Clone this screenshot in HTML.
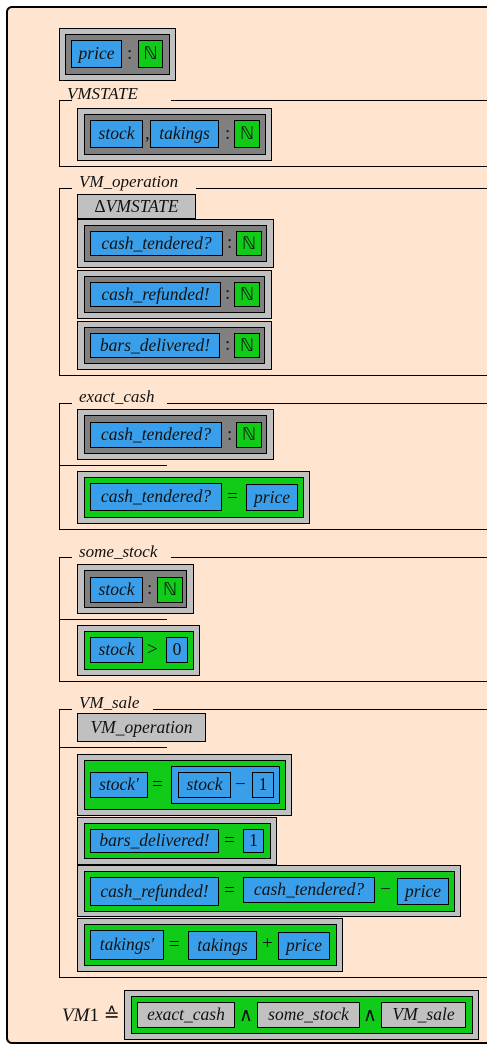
<!DOCTYPE html>
<html><head><style>
body{margin:0;width:487px;height:1052px;background:#fff;overflow:hidden;position:relative;font-family:"Liberation Serif",serif;color:#111}
.f{position:absolute;left:6px;top:6px;width:500px;height:1038px;box-sizing:border-box;border:2px solid #000;border-radius:6px;background:#ffe5cf}
.b{position:absolute;box-sizing:border-box;border:1px solid #000;display:flex;align-items:center;justify-content:center;font-style:italic;font-size:17.5px;white-space:nowrap;line-height:1}
.g{background:#c0c0c0}.d{background:#808080}.u{background:#3a9fea}.n{background:#10cc18}
.r{font-style:normal}
.t{position:absolute;font-size:19px;line-height:1;white-space:nowrap}
.i{font-style:italic}
.h{position:absolute;height:1px;background:#000}
.v{position:absolute;width:1px;background:#000}
</style></head><body>
<div class="f"></div>

<!-- price -->
<div class="b g" style="left:59px;top:28px;width:117px;height:53px"></div>
<div class="b d" style="left:65px;top:34px;width:105px;height:41px"></div>
<div class="b u" style="left:71px;top:40px;width:51px;height:28px">price</div>
<div class="t" style="left:127px;top:44px">:</div>
<div class="b n r" style="left:138px;top:40px;width:25px;height:28px">ℕ</div>

<!-- VMSTATE -->
<div class="t i" style="left:67px;top:85px;font-size:17px">VMSTATE</div>
<div class="h" style="left:59px;top:100px;width:13px"></div>
<div class="h" style="left:171px;top:100px;width:316px"></div>
<div class="v" style="left:59px;top:100px;height:66px"></div>
<div class="h" style="left:59px;top:166px;width:428px"></div>
<div class="b g" style="left:77px;top:108px;width:195px;height:53px"></div>
<div class="b d" style="left:84px;top:114px;width:182px;height:41px"></div>
<div class="b u" style="left:90px;top:120px;width:53px;height:28px">stock</div>
<div class="t" style="left:145px;top:124px">,</div>
<div class="b u" style="left:150px;top:120px;width:69px;height:28px">takings</div>
<div class="t" style="left:225px;top:124px">:</div>
<div class="b n r" style="left:234px;top:120px;width:26px;height:28px">ℕ</div>

<!-- VM_operation -->
<div class="t i" style="left:79px;top:173px;font-size:17px">VM_operation</div>
<div class="h" style="left:59px;top:188px;width:13px"></div>
<div class="h" style="left:196px;top:188px;width:291px"></div>
<div class="v" style="left:59px;top:188px;height:187px"></div>
<div class="h" style="left:59px;top:375px;width:428px"></div>
<div class="b g" style="left:77px;top:194px;width:119px;height:25px"><span class="r">Δ</span>VMSTATE</div>
<div class="b g" style="left:77px;top:219px;width:197px;height:49px"></div>
<div class="b d" style="left:84px;top:225px;width:183px;height:37px"></div>
<div class="b u" style="left:90px;top:231px;width:133px;height:25px">cash_tendered?</div>
<div class="t" style="left:227px;top:233px">:</div>
<div class="b n r" style="left:236px;top:231px;width:26px;height:25px">ℕ</div>
<div class="b g" style="left:77px;top:270px;width:195px;height:49px"></div>
<div class="b d" style="left:84px;top:276px;width:181px;height:37px"></div>
<div class="b u" style="left:90px;top:282px;width:131px;height:25px">cash_refunded!</div>
<div class="t" style="left:225px;top:284px">:</div>
<div class="b n r" style="left:234px;top:282px;width:26px;height:25px">ℕ</div>
<div class="b g" style="left:77px;top:321px;width:195px;height:49px"></div>
<div class="b d" style="left:84px;top:327px;width:181px;height:37px"></div>
<div class="b u" style="left:90px;top:333px;width:130px;height:25px">bars_delivered!</div>
<div class="t" style="left:225px;top:335px">:</div>
<div class="b n r" style="left:234px;top:333px;width:26px;height:25px">ℕ</div>

<!-- exact_cash -->
<div class="t i" style="left:79px;top:388px;font-size:17px">exact_cash</div>
<div class="h" style="left:59px;top:403px;width:13px"></div>
<div class="h" style="left:167px;top:403px;width:320px"></div>
<div class="v" style="left:59px;top:403px;height:126px"></div>
<div class="h" style="left:59px;top:529px;width:428px"></div>
<div class="h" style="left:59px;top:465px;width:108px"></div>
<div class="b g" style="left:77px;top:409px;width:197px;height:51px"></div>
<div class="b d" style="left:84px;top:415px;width:183px;height:39px"></div>
<div class="b u" style="left:90px;top:422px;width:132px;height:26px">cash_tendered?</div>
<div class="t" style="left:227px;top:425px">:</div>
<div class="b n r" style="left:236px;top:422px;width:26px;height:26px">ℕ</div>
<div class="b g" style="left:77px;top:471px;width:233px;height:53px"></div>
<div class="b n" style="left:84px;top:477px;width:220px;height:41px"></div>
<div class="b u" style="left:90px;top:483px;width:132px;height:28px">cash_tendered?</div>
<div class="t" style="left:227px;top:487px">=</div>
<div class="b u" style="left:246px;top:484px;width:52px;height:27px">price</div>

<!-- some_stock -->
<div class="t i" style="left:79px;top:543px;font-size:17px">some_stock</div>
<div class="h" style="left:59px;top:557px;width:13px"></div>
<div class="h" style="left:171px;top:557px;width:316px"></div>
<div class="v" style="left:59px;top:557px;height:124px"></div>
<div class="h" style="left:59px;top:681px;width:428px"></div>
<div class="h" style="left:59px;top:619px;width:108px"></div>
<div class="b g" style="left:77px;top:564px;width:117px;height:50px"></div>
<div class="b d" style="left:84px;top:570px;width:103px;height:38px"></div>
<div class="b u" style="left:90px;top:577px;width:53px;height:26px">stock</div>
<div class="t" style="left:147px;top:579px">:</div>
<div class="b n r" style="left:157px;top:577px;width:26px;height:26px">ℕ</div>
<div class="b g" style="left:77px;top:625px;width:123px;height:51px"></div>
<div class="b n" style="left:84px;top:631px;width:110px;height:39px"></div>
<div class="b u" style="left:90px;top:637px;width:53px;height:26px">stock</div>
<div class="t" style="left:147px;top:640px">&gt;</div>
<div class="b u r" style="left:166px;top:637px;width:22px;height:26px">0</div>

<!-- VM_sale -->
<div class="t i" style="left:79px;top:694px;font-size:17px">VM_sale</div>
<div class="h" style="left:59px;top:709px;width:13px"></div>
<div class="h" style="left:153px;top:709px;width:334px"></div>
<div class="v" style="left:59px;top:709px;height:268px"></div>
<div class="h" style="left:59px;top:977px;width:428px"></div>
<div class="h" style="left:59px;top:747px;width:108px"></div>
<div class="b g" style="left:77px;top:713px;width:129px;height:29px">VM_operation</div>

<div class="b g" style="left:77px;top:754px;width:215px;height:62px"></div>
<div class="b n" style="left:84px;top:760px;width:202px;height:50px"></div>
<div class="b u" style="left:90px;top:772px;width:58px;height:26px">stock′</div>
<div class="t" style="left:152px;top:775px">=</div>
<div class="b u" style="left:171px;top:766px;width:109px;height:38px"></div>
<div class="b u" style="left:178px;top:772px;width:53px;height:26px">stock</div>
<div class="t" style="left:235px;top:775px">−</div>
<div class="b u r" style="left:252px;top:772px;width:22px;height:26px">1</div>

<div class="b g" style="left:77px;top:817px;width:200px;height:48px"></div>
<div class="b n" style="left:84px;top:823px;width:187px;height:36px"></div>
<div class="b u" style="left:90px;top:829px;width:129px;height:24px">bars_delivered!</div>
<div class="t" style="left:224px;top:831px">=</div>
<div class="b u r" style="left:243px;top:829px;width:21px;height:24px">1</div>

<div class="b g" style="left:77px;top:865px;width:384px;height:52px"></div>
<div class="b n" style="left:84px;top:871px;width:371px;height:41px"></div>
<div class="b u" style="left:90px;top:877px;width:129px;height:29px">cash_refunded!</div>
<div class="t" style="left:224px;top:881px">=</div>
<div class="b u" style="left:243px;top:877px;width:132px;height:26px">cash_tendered?</div>
<div class="t" style="left:380px;top:880px">−</div>
<div class="b u" style="left:397px;top:878px;width:52px;height:27px">price</div>

<div class="b g" style="left:77px;top:918px;width:266px;height:54px"></div>
<div class="b n" style="left:84px;top:924px;width:253px;height:42px"></div>
<div class="b u" style="left:90px;top:930px;width:74px;height:30px">takings′</div>
<div class="t" style="left:169px;top:935px">=</div>
<div class="b u" style="left:188px;top:931px;width:69px;height:29px">takings</div>
<div class="t" style="left:262px;top:934px">+</div>
<div class="b u" style="left:278px;top:932px;width:52px;height:28px">price</div>

<!-- VM1 -->
<div class="t i" style="left:62px;top:1006px">VM<span class="r">1</span> <span class="r">≙</span></div>
<div class="b g" style="left:124px;top:990px;width:355px;height:50px"></div>
<div class="b n" style="left:131px;top:996px;width:342px;height:38px"></div>
<div class="b g" style="left:137px;top:1002px;width:98px;height:26px">exact_cash</div>
<div class="t" style="left:239px;top:1006px">∧</div>
<div class="b g" style="left:257px;top:1002px;width:103px;height:26px">some_stock</div>
<div class="t" style="left:363px;top:1006px">∧</div>
<div class="b g" style="left:381px;top:1002px;width:85px;height:26px">VM_sale</div>
</body></html>
